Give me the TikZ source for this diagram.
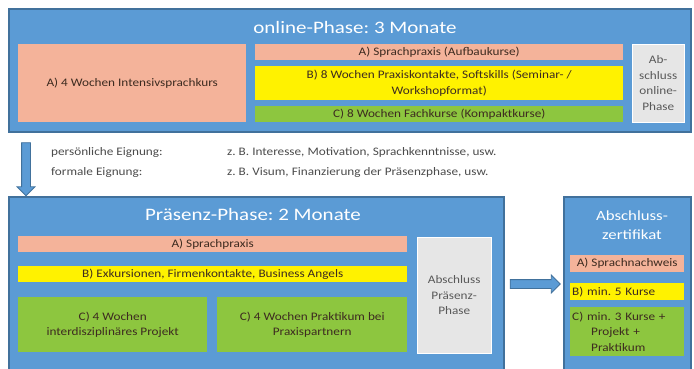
\documentclass[tikz,border=0pt]{standalone}
\usepackage{fontspec}
\setmainfont[FakeStretch=1.15]{Carlito}
\newfontfamily\titlefont[FakeStretch=1.2]{Carlito}
\usetikzlibrary{shapes.arrows}
\definecolor{phaseblue}{HTML}{5B9BD5}
\definecolor{phaseline}{HTML}{41719C}
\definecolor{salmon}{HTML}{F4B39A}
\definecolor{lime}{HTML}{8DC63F}
\definecolor{lightgray}{HTML}{E6E6E6}
\definecolor{inktext}{HTML}{3D2B20}
\frenchspacing
\begin{document}
\begin{tikzpicture}[x=1pt, y=-1pt,
  every node/.style={font=\fontsize{11.5}{15.5}\selectfont, inner sep=1pt, align=center, text=inktext},
  phase/.style={draw=phaseline, line width=1.6pt, fill=phaseblue, anchor=north west},
  title/.style={font=\titlefont\fontsize{17.5}{20}\selectfont, text=white},
  sal/.style={fill=salmon, anchor=north west},
  yel/.style={fill=yellow, anchor=north west},
  grn/.style={fill=lime, anchor=north west},
  gry/.style={fill=lightgray, draw=white, anchor=north west, text=black!65},
  blockarrow/.style={single arrow, draw=phaseline, fill=phaseblue, line width=0.8pt, inner sep=4pt, single arrow head extend=4.5pt},
  note/.style={anchor=west, text=black!70}
]
\clip (0,0) rectangle (694,368);
\fill[white] (0,0) rectangle (694,368);
% online-Phase
\node[phase, minimum width=682, minimum height=123] (online) at (8,8) {};
\node[title] (onlinetitle) at (355,27) {online-Phase: 3 Monate};
\node[sal, minimum width=228, minimum height=78] (intensiv) at (18,44) {A) 4 Wochen Intensivsprachkurs};
\node[sal, minimum width=368, minimum height=16] (aufbau) at (255,44) {A) Sprachpraxis (Aufbaukurse)};
\node[yel, minimum width=368, minimum height=34] (praxis) at (255,66) {B) 8 Wochen Praxiskontakte, Softskills (Seminar- /\\Workshopformat)};
\node[grn, minimum width=368, minimum height=16] (fach) at (255,106) {C) 8 Wochen Fachkurse (Kompaktkurse)};
\node[gry, minimum width=52, minimum height=78] (abonline) at (632,44) {Ab-\\schluss\\online-\\Phase};
% Eignung
\node[blockarrow, shape border rotate=270, minimum height=53, minimum width=17] (down) at (26,167) {};
\node[note] (perslabel) at (50,152) {persönliche Eignung:};
\node[note] (perstext) at (226,152) {z. B. Interesse, Motivation, Sprachkenntnisse, usw.};
\node[note] (formlabel) at (50,172) {formale Eignung:};
\node[note] (formtext) at (226,172) {z. B. Visum, Finanzierung der Präsenzphase, usw.};
% Praesenz-Phase
\node[phase, minimum width=495, minimum height=190] (praesenz) at (8,196) {};
\node[title] (praesenztitle) at (253,214) {Präsenz-Phase: 2 Monate};
\node[sal, minimum width=389, minimum height=16] (sprach) at (18,236) {A) Sprachpraxis};
\node[yel, minimum width=389, minimum height=16] (exkurs) at (18,266) {B) Exkursionen, Firmenkontakte, Business Angels};
\node[grn, minimum width=189, minimum height=55] (projekt) at (18,297) {C) 4 Wochen\\interdisziplinäres Projekt};
\node[grn, minimum width=190, minimum height=55] (praktikum) at (217,297) {C) 4 Wochen Praktikum bei\\Praxispartnern};
\node[gry, minimum width=74, minimum height=116] (abpraesenz) at (417,237) {Abschluss\\Präsenz-\\Phase};
% Zertifikat
\node[blockarrow, minimum height=50, minimum width=17] (right) at (533,284) {};
\node[phase, minimum width=127, minimum height=190] (zert) at (563,196) {};
\node[title, font=\titlefont\fontsize{14}{19}\selectfont] (zerttitle) at (632,225) {Abschluss-\\zertifikat};
\node[sal, minimum width=114, minimum height=17] (nachweis) at (570,255) {A) Sprachnachweis};
\node[yel, minimum width=114, minimum height=17, align=left, text width=110] (kurse) at (570,283) {B) min. 5 Kurse};
\node[grn, minimum width=114, minimum height=49, align=left, text width=110, inner sep=2pt] (kombi) at (570,307) {C) min. 3 Kurse +\\\hspace*{19pt}Projekt +\\\hspace*{19pt}Praktikum};
\end{tikzpicture}
\end{document}
